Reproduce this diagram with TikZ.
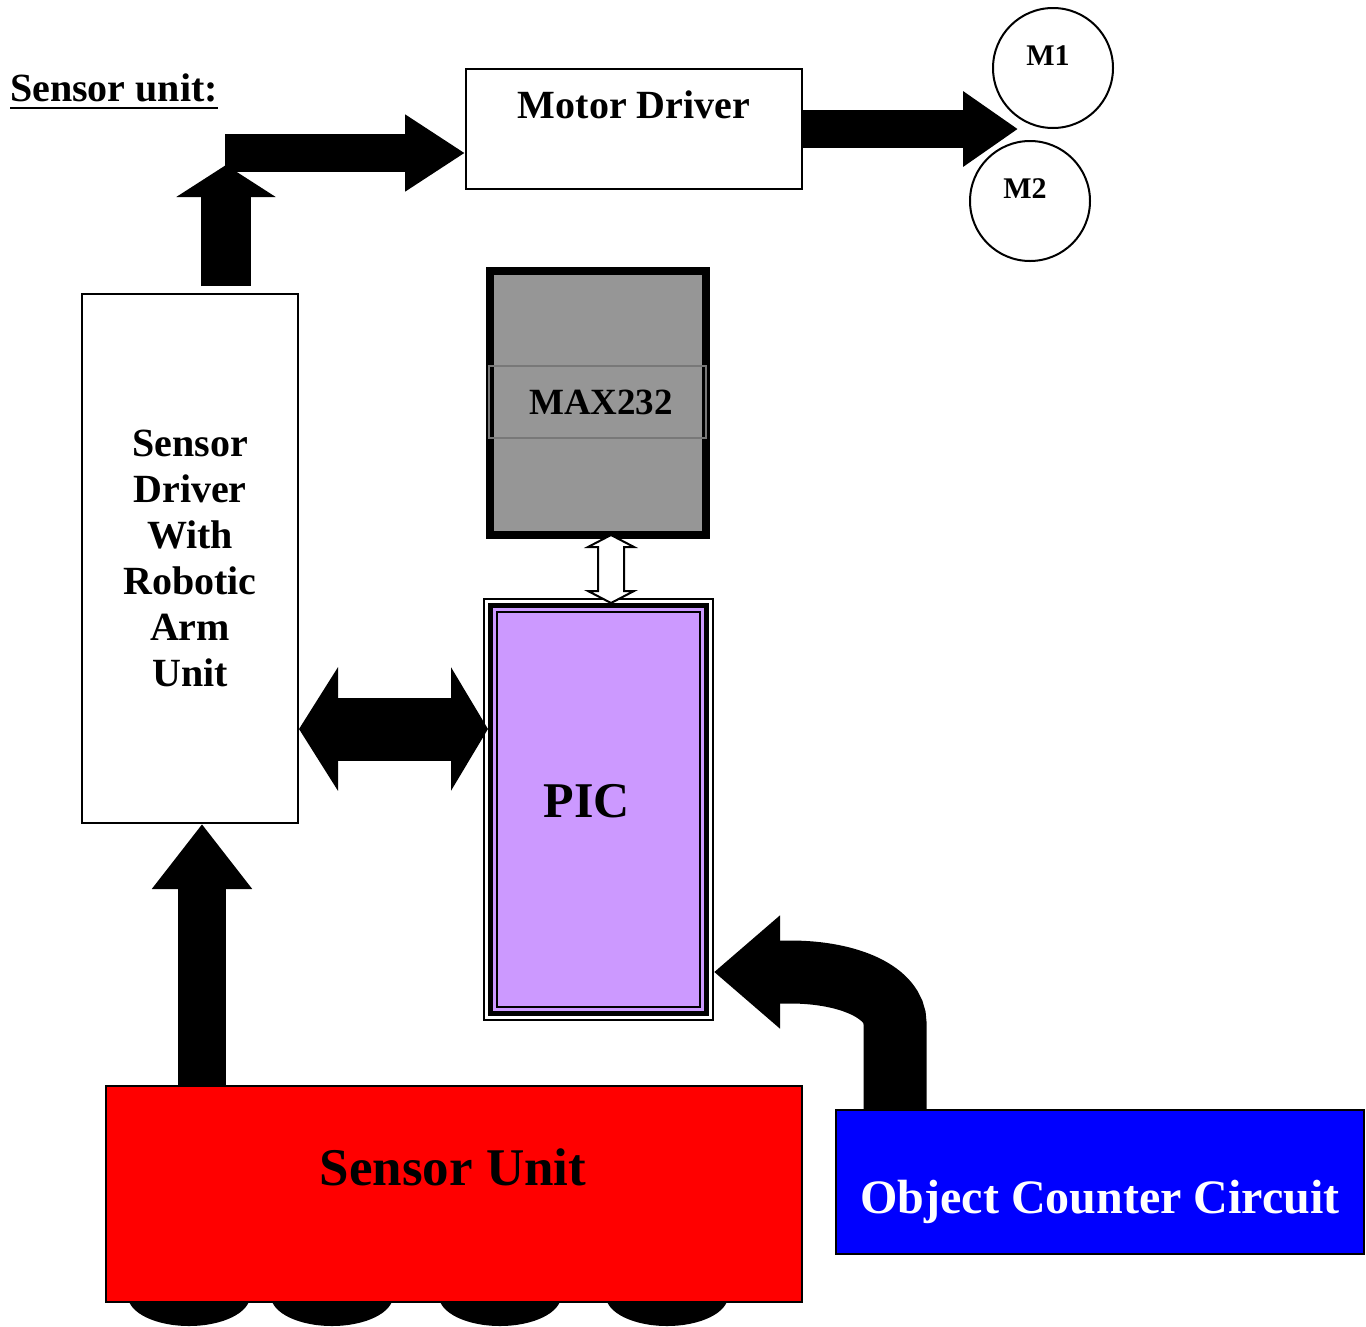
\documentclass[tikz,border=0pt]{standalone}
\usepackage{fontspec}
\setmainfont{Liberation Serif}
\usetikzlibrary{calc,arrows.meta}
\definecolor{picpurple}{RGB}{204,153,255}
\definecolor{maxgray}{RGB}{150,150,150}
\definecolor{lblgray}{RGB}{120,120,120}
\newcommand{\fsz}[1]{\fontsize{#1}{#1}\selectfont\bfseries}
\tikzset{
  box/.style={draw, line width=2pt, inner sep=0pt},
  txt/.style={inner sep=0pt, anchor=base},
  fat/.style={line width=#1},
  hollow/.style={draw, fill=white, line width=2pt, line join=miter},
}

\begin{document}
\begin{tikzpicture}[x=1pt,y=-1pt]
\useasboundingbox (0,0) rectangle (1366,1326);

% title
\node[txt, anchor=base west] (title) at (10,101) {\fsz{40}Sensor unit:};
\draw[line width=2.5pt] ($(title.south west)+(0,6)$) -- ($(title.south east)+(0,6)$);

% motor side
\node[box, minimum width=336pt, minimum height=120pt] (md) at (634,129) {};
\node[txt] (mdtxt) at (634,118) {\fsz{40}Motor Driver};
\node[box, circle, minimum size=120pt] (m1) at (1053,68) {};
\node[box, circle, minimum size=120pt] (m2) at (1030,201) {};
\node[txt] (m1txt) at (1048,65) {\fsz{30}M1};
\node[txt] (m2txt) at (1025,198) {\fsz{30}M2};

% sensor driver
\node[box, minimum width=216pt, minimum height=529pt, align=center,
      font=\fontsize{40}{46}\selectfont\bfseries] (sd) at (190,558.5)
      {Sensor\\Driver\\With\\Robotic\\Arm\\Unit};

% max232
\node[draw, line width=8pt, fill=maxgray, minimum width=216pt, minimum height=264pt] (max) at (598,403) {};
\node[draw=lblgray, line width=1.2pt, inner sep=0pt, minimum width=217pt, minimum height=72pt] (maxlbl) at (597.5,402)
      {\hspace*{7pt}\fsz{37}MAX232};

% pic
\node[box, minimum width=229pt, minimum height=421pt] (picouter) at (598.5,809.5) {};
\node[draw, line width=5pt, fill=picpurple, minimum width=216pt, minimum height=408pt] (pic) at (598.5,809.5) {};
\node[box, minimum width=203pt, minimum height=395pt] (picin) at (598.5,809.5) {};
\node[txt] (pictxt) at (587,817) {\fsz{50}PIC};

% sensor unit with wheels
\foreach \w in {189,332,500,667} {
    \fill (\w,1296) ellipse (61 and 30);
}
\node[box, fill=red, minimum width=696pt, minimum height=216pt] (su) at (454,1194) {};
\node[txt] (sutxt) at (453,1185) {\fsz{53}Sensor Unit};

% object counter
\node[box, fill=blue, minimum width=528pt, minimum height=144pt] (occ) at (1100,1182) {};
\node[txt, text=white] (occtxt) at (1100,1213) {\fsz{48}Object Counter Circuit};

% block arrows
\coordinate (mtip) at (1018,129);
\draw[fat=38pt, -{Triangle[width=72pt,length=55pt]}] (md.east) -- (mtip);

\coordinate (lbot) at (226,286);
\coordinate (lcorner) at (226,165);
\coordinate (lturn) at (225,153);
\draw[fat=38pt, -{Triangle[width=73pt,length=60pt]}] (lturn) -- (md.west |- lturn);
\draw[fat=50pt, -{Triangle[width=98pt,length=32pt]}] (lbot) -- (lcorner);

\coordinate (lnk) at (0,729);
\draw[fat=63pt, {Triangle[width=122pt,length=39pt]}-{Triangle[width=122pt,length=37pt]}]
    (sd.east |- lnk) -- (pic.west |- lnk);

\coordinate (ux) at (202,0);
\draw[fat=48pt, -{Triangle[width=96pt,length=65pt]}] (su.north -| ux) -- (sd.south -| ux);

\coordinate (cstem) at (895,0);
\coordinate (cbend) at (895,1023);
\coordinate (cknee) at (790,972);
\draw[fat=63pt, -{Triangle[width=109pt,length=66pt]}]
    (occ.north -| cstem) -- (cbend) .. controls +(0,-30) and +(60,0) .. (cknee) -- (picouter.east |- cknee);

% serial link
\coordinate (vtop) at (611,535);
\draw[hollow] (vtop) -- ++(23,12) -- ++(-10,0) -- ++(0,44) -- ++(10,0) -- ++(-23,12)
    -- ++(-23,-12) -- ++(10,0) -- ++(0,-44) -- ++(-10,0) -- cycle;

\end{tikzpicture}
\end{document}
